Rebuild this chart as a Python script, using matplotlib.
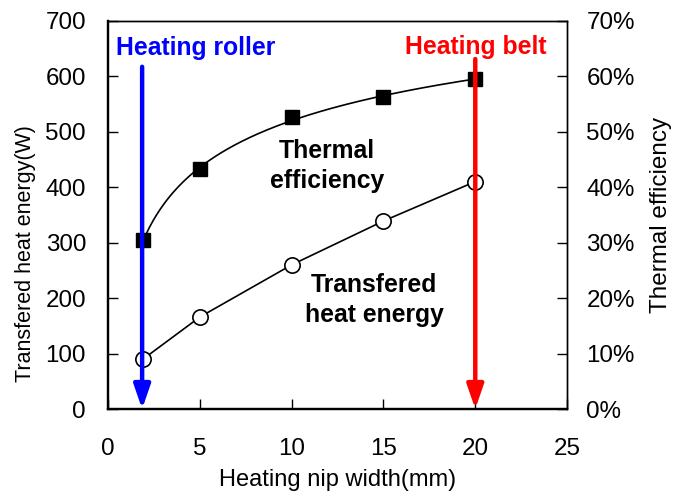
import numpy as np
import matplotlib
matplotlib.use("Agg")
import matplotlib.pyplot as plt
from matplotlib.ticker import FuncFormatter

plt.rcParams["font.family"] = ["Liberation Sans", "DejaVu Sans"]

# data
nip_width = [1.9, 5, 10, 15, 20]
heat_energy = [90, 166, 260, 339, 410]          # W
efficiency = [0.304, 0.432, 0.526, 0.562, 0.595]  # fraction

roller_x, roller_top = 1.85, 0.617
belt_x, belt_top = 20.0, 0.631

fig = plt.figure(figsize=(6.89, 4.94), dpi=100)
ax = fig.add_axes([0.157, 0.172, 0.666, 0.786])
ax2 = ax.twinx()

# transferred heat energy: straight segments, open circles
ax.plot(nip_width, heat_energy, color="black", lw=1.2, marker="o", ms=11,
        mfc="white", mec="black", mew=1.2, zorder=3)

# thermal efficiency: smooth trend + filled squares
lx = np.log(nip_width)
coef = np.polyfit(lx, efficiency, 2)
xs = np.linspace(nip_width[0], nip_width[-1], 200)
ax2.plot(xs, np.polyval(coef, np.log(xs)), color="black", lw=1.2, zorder=2)
ax2.plot(nip_width, efficiency, ls="none", marker="s", ms=10.5,
         mfc="black", mec="black", zorder=3)

# arrows for the two heating types
for x0, top, col in [(roller_x, roller_top, "#0000ff"), (belt_x, belt_top, "#ff0000")]:
    ax2.annotate("", xy=(x0, 0.0), xytext=(x0, top),
                 arrowprops=dict(arrowstyle="-|>,head_length=1.45,head_width=0.5",
                                 color=col, lw=3.2, shrinkA=0, shrinkB=0,
                                 mutation_scale=10),
                 zorder=5)

ax2.text(4.77, 0.651, "Heating roller", color="#0000ff", fontsize=17.8,
         fontweight="bold", ha="center", va="center", zorder=6)
ax2.text(20.0, 0.653, "Heating belt", color="#ff0000", fontsize=17.8,
         fontweight="bold", ha="center", va="center", zorder=6)
ax2.text(11.93, 0.438, "Thermal\nefficiency", fontsize=17.8, fontweight="bold",
         ha="center", va="center", linespacing=1.3, zorder=6)
ax2.text(14.5, 0.197, "Transfered\nheat energy", fontsize=17.8, fontweight="bold",
         ha="center", va="center", linespacing=1.3, zorder=6)

ax.set_xlim(0, 25)
ax.set_ylim(0, 700)
ax2.set_ylim(0, 0.7)
ax.set_xticks(range(0, 26, 5))
ax.set_yticks(range(0, 701, 100))
ax2.set_yticks(np.arange(0, 0.71, 0.1))
ax2.yaxis.set_major_formatter(FuncFormatter(lambda v, p: f"{v * 100:.0f}%"))

ax.set_xlabel("Heating nip width(mm)", fontsize=17)
ax.set_ylabel("Transfered heat energy(W)", fontsize=15.5)
ax2.set_ylabel("Thermal efficiency", fontsize=17.5, labelpad=11)
ax.xaxis.set_label_coords(0.5, -0.155)
ax.yaxis.set_label_coords(-0.158, 0.40)

ax.tick_params(axis="x", direction="in", length=7, width=1, labelsize=17.4, pad=21)
ax.tick_params(axis="y", direction="in", length=7, width=1, labelsize=17.4, pad=16)
ax2.tick_params(axis="y", direction="in", length=7, width=1, labelsize=17.4, pad=14)

for a in (ax, ax2):
    a.spines["left"].set_linewidth(1.6)
    a.spines["bottom"].set_linewidth(1.6)
    a.spines["right"].set_linewidth(1.0)
    a.spines["top"].set_linewidth(1.0)

fig.savefig("out.png", dpi=100)
